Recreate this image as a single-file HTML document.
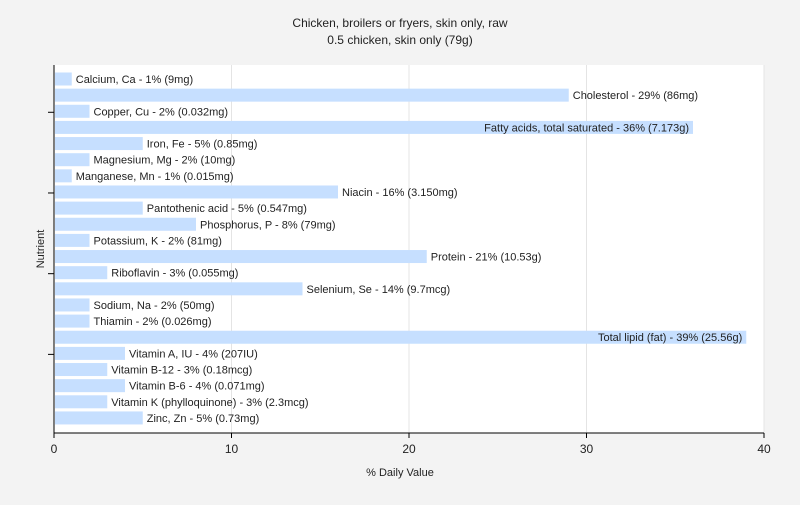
<!DOCTYPE html>
<html><head><meta charset="utf-8"><style>
body{margin:0;background:#f3f3f3;font-family:"Liberation Sans",sans-serif;}
svg text{font-family:"Liberation Sans",sans-serif;}
</style></head><body>
<svg width="800" height="500">
<rect width="800" height="500" fill="#f3f3f3"/>
<text x="400" y="27" text-anchor="middle" font-size="12" fill="#222">Chicken, broilers or fryers, skin only, raw</text>
<text x="400" y="44" text-anchor="middle" font-size="12" fill="#222">0.5 chicken, skin only (79g)</text>
<rect x="54" y="65" width="710" height="368" fill="#ffffff"/>
<g id="grid"></g><g id="bars"></g>
<line x1="54" y1="65" x2="54" y2="433" stroke="#000"/>
<line x1="54" y1="433" x2="764" y2="433" stroke="#000"/>
<g id="axes"></g>
<text x="400" y="476" text-anchor="middle" font-size="11" fill="#222">% Daily Value</text>
<text x="44" y="249" text-anchor="middle" font-size="11" fill="#222" transform="rotate(-90 44 249)">Nutrient</text>
</svg>
<script>
const categories=["Calcium, Ca - 1% (9mg)","Cholesterol - 29% (86mg)","Copper, Cu - 2% (0.032mg)","Fatty acids, total saturated - 36% (7.173g)","Iron, Fe - 5% (0.85mg)","Magnesium, Mg - 2% (10mg)","Manganese, Mn - 1% (0.015mg)","Niacin - 16% (3.150mg)","Pantothenic acid - 5% (0.547mg)","Phosphorus, P - 8% (79mg)","Potassium, K - 2% (81mg)","Protein - 21% (10.53g)","Riboflavin - 3% (0.055mg)","Selenium, Se - 14% (9.7mcg)","Sodium, Na - 2% (50mg)","Thiamin - 2% (0.026mg)","Total lipid (fat) - 39% (25.56g)","Vitamin A, IU - 4% (207IU)","Vitamin B-12 - 3% (0.18mcg)","Vitamin B-6 - 4% (0.071mg)","Vitamin K (phylloquinone) - 3% (2.3mcg)","Zinc, Zn - 5% (0.73mg)"];
const values=[1,29,2,36,5,2,1,16,5,8,2,21,3,14,2,2,39,4,3,4,3,5];
const xTicks=[0,10,20,30,40];
const NS="http://www.w3.org/2000/svg";
const x0=54,x1=764,xMax=40,yTop=65,yBot=433;
const xs=v=>x0+(v/xMax)*(x1-x0);
const step=16.14,first=79;
const ys=i=>first+i*step;
function mk(t,a,p){const e=document.createElementNS(NS,t);for(const k in a)e.setAttribute(k,a[k]);p.appendChild(e);return e;}
const grid=document.getElementById('grid'),bars=document.getElementById('bars'),axes=document.getElementById('axes');
xTicks.forEach(t=>{
 if(t>0){const g=mk('line',{x1:xs(t),x2:xs(t),y1:yTop,y2:yBot,stroke:'#e4e4e4'},grid);
 
 }
 const tk=mk('line',{x1:xs(t),x2:xs(t),y1:yBot,y2:yBot+5,stroke:'#000'},axes);
 
 
 const lb=mk('text',{x:xs(t),y:yBot+20,'text-anchor':'middle','font-size':12,fill:'#222'},axes);
 lb.textContent=t;
 
 
});
[2,7,12,17].forEach(i=>{const tk=mk('line',{x1:48,x2:54,y1:ys(i)+1,y2:ys(i)+1,stroke:'#000'},axes);
 
 });
const cv=document.createElement('canvas').getContext('2d');cv.font='11px "Liberation Sans"';
categories.forEach((c,i)=>{
 const y=ys(i),w=xs(values[i])-x0-1;
 const r=mk('rect',{x:x0+1,y:y-6.5,width:Math.max(0,w),height:13,fill:'#c6dfff'},bars);
 
 
 const tw=cv.measureText(c).width;
 const end=xs(values[i]);
 const inside=end+4+tw>x1;
 const t=mk('text',{x:inside?end-4:end+4,y:y+4,'text-anchor':inside?'end':'start','font-size':11,fill:'#222'},bars);
 t.textContent=c;
 
 
});
</script>
</body></html>
